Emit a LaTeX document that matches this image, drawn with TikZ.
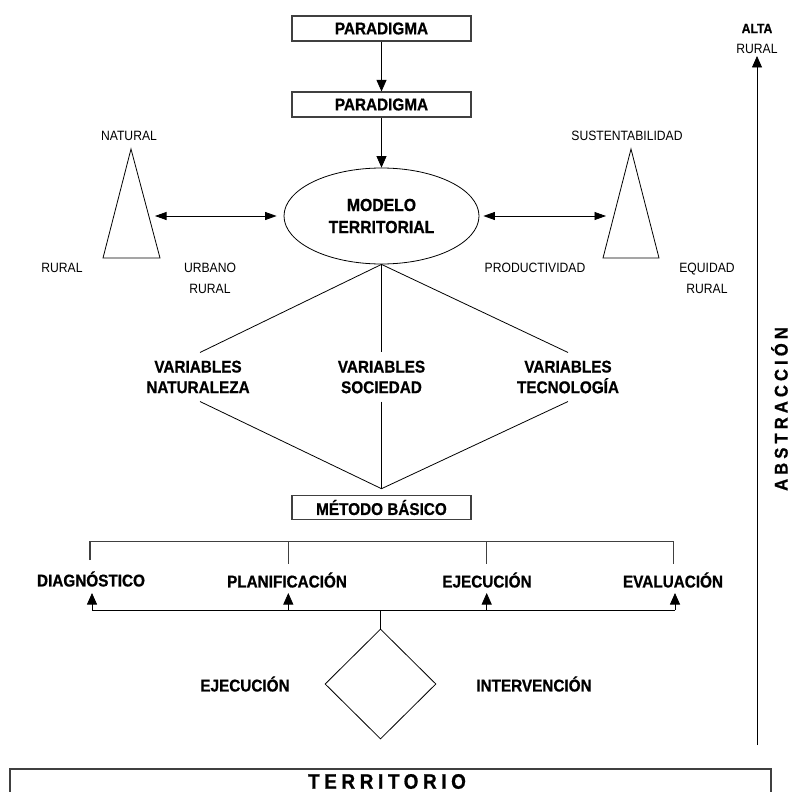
\documentclass[tikz,border=0pt]{standalone}
\usepackage{fontspec}
\setmainfont{Liberation Sans}[FakeStretch=0.9,BoldFeatures={FakeBold=0.8}]
\usetikzlibrary{shapes.geometric,arrows.meta,calc}

\begin{document}
\begin{tikzpicture}[x=1pt,y=-1pt,
  box/.style={draw=black!75,line width=1.1pt,minimum width=179pt,minimum height=25pt,inner sep=0pt,
    font=\bfseries\fontsize{17}{20}\selectfont},
  lbl/.style={font=\fontsize{13.5}{21}\selectfont,align=center,inner sep=0pt},
  blbl/.style={font=\bfseries\fontsize{17}{20.6}\selectfont,align=center,inner sep=0pt},
  con/.style={line width=0.8pt},
  arr/.style={con,-{Triangle[length=11.5pt,width=10pt]}},
  dbl/.style={con,{Triangle[length=11.5pt,width=8pt]}-{Triangle[length=11.5pt,width=8pt]}},
  gray line/.style={draw=black!75,line width=1.1pt}
]
\useasboundingbox (0,0) rectangle (791,792);
\clip (0,0) rectangle (791,792);

% paradigm boxes and the territorial model
\node[box] (p1) at (381.5,28.5) {PARADIGMA};
\node[box] (p2) at (381.5,104.5) {PARADIGMA};
\node[ellipse,draw,con,minimum width=195pt,minimum height=96pt,inner sep=0pt,align=center,
  font=\bfseries\fontsize{17.5}{22}\selectfont] (m) at (381.5,216) {MODELO\\TERRITORIAL};
\draw[arr] (p1.south) -- (p2.north);
\draw[arr] (p2.south) -- (m.north);

% left triangle
\coordinate (lta) at (131,149);
\coordinate (ltl) at (103,258);
\coordinate (ltr) at (160,258);
\draw[con] (lta) -- (ltl) -- (ltr) -- cycle;
\node[lbl] (natural) at (129,136) {NATURAL};
\node[lbl] (rural1) at (62,268) {RURAL};
\node[lbl] (urbano) at (210,278.5) {URBANO\\RURAL};
\coordinate (ltarr) at (155,216);
\draw[dbl] (ltarr) -- ([xshift=-7pt]m.west);

% right triangle
\coordinate (rta) at (631,149);
\coordinate (rtl) at (603,258);
\coordinate (rtr) at (659,258);
\draw[con] (rta) -- (rtl) -- (rtr) -- cycle;
\node[lbl] (sust) at (627,136) {SUSTENTABILIDAD};
\node[lbl] (prod) at (535,268) {PRODUCTIVIDAD};
\node[lbl] (equidad) at (707,278.5) {EQUIDAD\\RURAL};
\coordinate (rtarr) at (606,216);
\draw[dbl] ([xshift=4pt]m.east) -- (rtarr);

% variables
\node[blbl,inner ysep=8pt] (vn) at (198,377) {VARIABLES\\NATURALEZA};
\node[blbl,inner ysep=8pt] (vs) at (381.5,377) {VARIABLES\\SOCIEDAD};
\node[blbl,inner ysep=8pt] (vt) at (568,377) {VARIABLES\\TECNOLOGÍA};
\draw[con] (m.south) -- ([xshift=2pt]vn.north);
\draw[con] (m.south) -- (vs.north);
\draw[con] (m.south) -- (vt.north);

% basic method
\node[box,minimum height=23.5pt] (mb) at (381.5,507.5) {MÉTODO BÁSICO};
\coordinate (conv) at ($(mb.north)+(0,-6.5)$);
\draw[con] ([xshift=2pt]vn.south) -- (conv);
\draw[con] (vs.south) -- (conv);
\draw[con] (vt.south) -- (conv);

% phases
\node[blbl] (diag) at (91,579) {DIAGNÓSTICO};
\node[blbl] (plan) at (287,580) {PLANIFICACIÓN};
\node[blbl] (ejec) at (487,580) {EJECUCIÓN};
\node[blbl] (eval) at (673,580) {EVALUACIÓN};
\draw[gray line] (90,560) -- (90,541.7) -- (673.3,541.7) -- (673.3,564);
\draw[gray line] (288.7,541.7) -- (288.7,564);
\draw[gray line] (486.7,541.7) -- (486.7,564);

\coordinate (bl) at (92,610);
\coordinate (br) at (675,610);
\draw[con] (bl) -- (br);
\draw[arr] (bl) -- (92,593);
\draw[arr] (288.3,610) -- (288.3,593);
\draw[arr] (486.7,610) -- (486.7,593);
\draw[arr] (br) -- (675,593);

% intervention diamond
\node[diamond,draw,con,minimum width=111pt,minimum height=110pt,inner sep=0pt] (dia) at (380.5,684) {};
\draw[con] (dia.north |- bl) -- (dia.north);
\node[blbl] (ejec2) at (245,684) {EJECUCIÓN};
\node[blbl] (interv) at (534,684) {INTERVENCIÓN};

% territory band
\draw[gray line] (10,769) rectangle (771,815);
\node[inner sep=0pt,font=\bfseries\fontsize{21}{24}\selectfont\addfontfeature{LetterSpace=22}]
  (terr) at (387,781.5) {TERRITORIO};

% abstraction axis
\coordinate (axb) at (757,745);
\node[font=\bfseries\fontsize{13.5}{14}\selectfont,inner sep=0pt] (alta) at (757,28.5) {ALTA};
\node[lbl] (rural3) at (757,49) {RURAL};
\draw[arr] (axb) -- (757,56);
\node[rotate=90,inner sep=0pt,font=\bfseries\fontsize{18.5}{20}\selectfont\addfontfeature{LetterSpace=22}]
  (abs) at (779.5,409) {ABSTRACCIÓN};
\end{tikzpicture}
\end{document}
